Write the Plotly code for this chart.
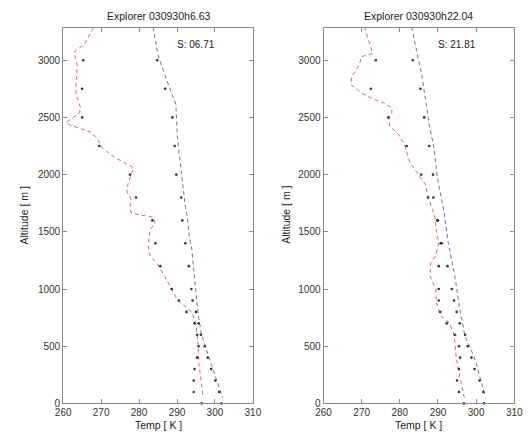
import plotly.graph_objects as go

# ---------------- data ----------------
# Left panel (Explorer 030930h6.63)
L_red_temp = [268.0, 265.4, 263.3, 262.9, 263.7, 263.5, 263.3, 263.7, 264.6, 264.3, 262.5, 260.8, 261.6,
              267.6, 269.3, 270.1, 273.5, 278.6, 278.0, 277.1, 276.8, 277.8, 277.6, 278.0, 283.7,
              284.2, 282.9, 282.4, 282.9, 284.6, 286.7, 288.4, 290.2, 291.8, 293.9, 294.9, 295.5,
              295.8, 296.5, 296.9]
L_red_alt = [3282, 3131, 3088, 3060, 2959, 2872, 2729, 2671, 2584, 2541, 2498, 2455, 2435,
             2368, 2296, 2239, 2152, 2060, 2008, 1921, 1850, 1792, 1705, 1662, 1627,
             1576, 1518, 1374, 1288, 1230, 1115, 1014, 900, 856, 798, 711, 539,
             337, 136, 49]
L_blue_temp = [283.7, 285.0, 287.1, 289.7, 290.1, 290.9, 292.2, 292.7, 293.1, 293.9, 294.4, 294.9,
               295.6, 296.5, 298.2, 299.9, 301.6, 302.0]
L_blue_alt = [3290, 3045, 2843, 2613, 2325, 2094, 1720, 1634, 1489, 1346, 1201, 1000,
              769, 596, 424, 251, 78, 49]

dot_alt = [0, 100, 200, 300, 400, 500, 600, 700, 800, 900, 1000, 1200, 1400, 1600, 1800,
           2000, 2250, 2500, 2750, 3000]
L_dotsA = [296.5, 294.4, 294.4, 294.6, 295.3, 295.7, 295.3, 294.6, 292.5, 290.5, 288.6, 285.6,
           284.3, 283.5, 279.2, 277.6, 269.5, 265.0, 265.0, 265.3]
L_dotsB = [301.7, 301.1, 300.1, 299.0, 298.1, 297.3, 296.3, 295.7, 295.0, 294.1, 293.8, 293.1,
           292.2, 291.4, 291.1, 289.8, 289.4, 288.8, 286.9, 284.8]

# Right panel (Explorer 030930h22.04)
R_red_temp = [270.7, 271.6, 272.4, 272.9, 269.9, 269.5, 268.6, 267.4, 267.2, 269.9, 273.3, 275.8,
              277.9, 277.9, 277.1, 277.3, 279.6, 281.3, 282.6, 285.1, 286.8, 287.2, 288.1, 289.4,
              289.4, 290.2, 289.4, 288.1, 287.9, 289.4, 289.6, 290.6, 292.7, 294.0, 294.4,
              294.8, 295.8, 296.5, 296.9]
R_red_alt = [3290, 3189, 3103, 3060, 3031, 2973, 2916, 2858, 2786, 2714, 2656, 2627,
             2584, 2541, 2498, 2426, 2354, 2253, 2109, 1990, 1908, 1835, 1749, 1605,
             1548, 1403, 1288, 1230, 1115, 1000, 885, 770, 712, 625, 539,
             395, 222, 106, 49]
R_blue_temp = [283.1, 285.9, 287.7, 288.9, 289.8, 291.5, 292.7, 294.4, 295.7, 297.0, 299.6, 302.1, 302.4]
R_blue_alt = [3290, 2840, 2440, 2240, 1979, 1692, 1403, 1115, 827, 597, 398, 104, 60]

R_dotsA = [296.8, 295.5, 295.0, 295.5, 295.8, 295.5, 294.5, 292.3, 290.6, 290.2, 290.2, 290.2,
           290.7, 289.8, 287.4, 285.6, 281.8, 277.0, 272.4, 273.7]
R_dotsB = [302.1, 301.9, 300.9, 299.6, 298.8, 297.8, 297.1, 295.7, 294.9, 294.2, 293.6, 292.5,
           291.0, 290.0, 288.8, 288.7, 287.7, 286.4, 285.4, 283.4]

titles = ["Explorer 030930h6.63", "Explorer 030930h22.04"]
s_labels = ["S: 06.71", "S: 21.81"]
x_ticks = [260, 270, 280, 290, 300, 310]
y_ticks = [0, 500, 1000, 1500, 2000, 2500, 3000]

# ---------------- figure ----------------
W, H = 531, 440
RED = "#d6667a"
BLUE = "#6a72a6"
DOT = "#333333"
FONT = "Liberation Sans, Arial, sans-serif"

fig = go.Figure()

panels = [
    (L_red_temp, L_red_alt, L_blue_temp, L_blue_alt, L_dotsA, L_dotsB, "x", "y"),
    (R_red_temp, R_red_alt, R_blue_temp, R_blue_alt, R_dotsA, R_dotsB, "x2", "y2"),
]
for rt, ra, bt, ba, da, db, xa, ya in panels:
    fig.add_trace(go.Scatter(x=rt, y=ra, mode="lines", xaxis=xa, yaxis=ya,
                             line=dict(color=RED, width=1, dash="4px,3px"), showlegend=False))
    fig.add_trace(go.Scatter(x=bt, y=ba, mode="lines", xaxis=xa, yaxis=ya,
                             line=dict(color=BLUE, width=1, dash="4px,3px"), showlegend=False))
    fig.add_trace(go.Scatter(x=da, y=dot_alt, mode="markers", xaxis=xa, yaxis=ya,
                             marker=dict(color=DOT, size=2.6), showlegend=False, cliponaxis=False))
    fig.add_trace(go.Scatter(x=db, y=dot_alt, mode="markers", xaxis=xa, yaxis=ya,
                             marker=dict(color=DOT, size=2.6), showlegend=False, cliponaxis=False))

def px_x(p):
    return p / W

def px_y(p):
    return (H - p) / H

ax_common = dict(showline=True, linecolor="#8a8a8a", linewidth=1, mirror="ticks",
                 ticks="inside", ticklen=4, tickcolor="#8a8a8a", showgrid=False, zeroline=False,
                 tickfont=dict(size=10, color="#333333", family=FONT))

y_dom = [px_y(409), px_y(28)]
fig.update_layout(
    width=W, height=H, margin=dict(l=0, r=0, t=0, b=0),
    paper_bgcolor="white", plot_bgcolor="white",
    font=dict(family=FONT, color="#333333"),
    xaxis=dict(domain=[px_x(57), px_x(253)], range=[260, 310], tickvals=x_ticks, anchor="y", **ax_common),
    yaxis=dict(domain=y_dom, range=[0, 3285], tickvals=y_ticks, anchor="x", **ax_common),
    xaxis2=dict(domain=[px_x(326), px_x(523)], range=[260, 310], tickvals=x_ticks, anchor="y2", **ax_common),
    yaxis2=dict(domain=y_dom, range=[0, 3285], tickvals=y_ticks, anchor="x2", **ax_common),
)

ann = []
centers = [(57 + 253) / 2, (326 + 523) / 2]
s_x = [194, 464]
ylab_x = [17, 287]
for i in range(2):
    common = dict(xref="paper", yref="paper", showarrow=False, xanchor="center", yanchor="middle")
    ann.append(dict(text=titles[i], x=px_x(centers[i]), y=px_y(16),
                    font=dict(size=10.5, color="#222222"), **common))
    ann.append(dict(text=s_labels[i], x=px_x(s_x[i]), y=px_y(45),
                    font=dict(size=10, color="#222222"), **common))
    ann.append(dict(text="Temp [ K ]", x=px_x(centers[i]), y=px_y(431),
                    font=dict(size=10.5, color="#222222"), **common))
    ann.append(dict(text="Altitude [ m ]", x=px_x(ylab_x[i]), y=px_y(218), textangle=-90,
                    font=dict(size=10.5, color="#222222"), **common))
fig.update_layout(annotations=ann)

fig.write_html("out.html")
